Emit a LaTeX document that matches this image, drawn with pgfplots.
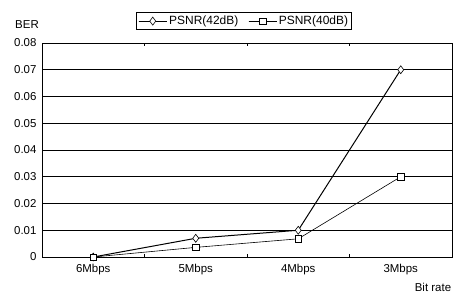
\documentclass[border=0pt]{standalone}
\usepackage{pgfplots}
\pgfplotsset{compat=1.18}
\usepackage{fontspec}
\setmainfont{Liberation Sans}
\begin{document}
\begin{tikzpicture}[font=\fontsize{11.5}{13}\selectfont]
\useasboundingbox (-42bp,-38bp) rectangle (420bp,257bp);
\begin{axis}[
  at={(0,0)}, anchor=south west,
  scale only axis, width=410bp, height=214bp,
  xmin=-0.5, xmax=3.5, ymin=0, ymax=0.08,
  xtick={0,1,2,3}, xticklabels={6Mbps,5Mbps,4Mbps,3Mbps},
  extra x ticks={0.5,1.5,2.5}, extra x tick labels={},
  extra x tick style={major tick length=3bp, tick style={black}, grid=none},
  ytick={0,0.01,...,0.08},
  scaled y ticks=false,
  yticklabels={0,0.01,0.02,0.03,0.04,0.05,0.06,0.07,0.08},
  ymajorgrids, grid style={black, line width=0.7pt},
  major tick length=0pt,
  axis line style={black, line width=0.8pt},
  x axis line style={line width=1pt},
  xticklabel style={yshift=-4bp},
  yticklabel style={xshift=-2bp},
  /pgf/number format/assume math mode=true,
  legend style={at={(0.493,1)}, anchor=south, yshift=13bp, draw=black, line width=0.6pt,
    legend columns=2, font=\fontsize{12}{13}\selectfont, inner sep=1.5pt,
    /tikz/every even column/.append style={column sep=8bp}},
  legend image code/.code={\draw[#1] (0bp,0bp) -- (28bp,0bp); \draw[#1,mark repeat=2,mark phase=2] plot coordinates {(0bp,0bp) (14bp,0bp) (28bp,0bp)};},
  clip=false,
]
\addplot[black, line width=1pt, mark=diamond*, mark options={fill=white, solid, line width=0.6pt}, mark size=4pt]
  coordinates {(0,0) (1,0.007) (2,0.01) (3,0.07)};
\addlegendentry{PSNR(42dB)}
\addplot[black, line width=0.6pt, mark=square*, mark options={fill=white, solid, line width=0.6pt}, mark size=3.2pt]
  coordinates {(0,0) (1,0.0036) (2,0.0068) (3,0.03)};
\addlegendentry{PSNR(40dB)}
\end{axis}
\node at (-15bp,232bp) {BER};
\node at (391bp,-30bp) {Bit rate};
\end{tikzpicture}
\end{document}
